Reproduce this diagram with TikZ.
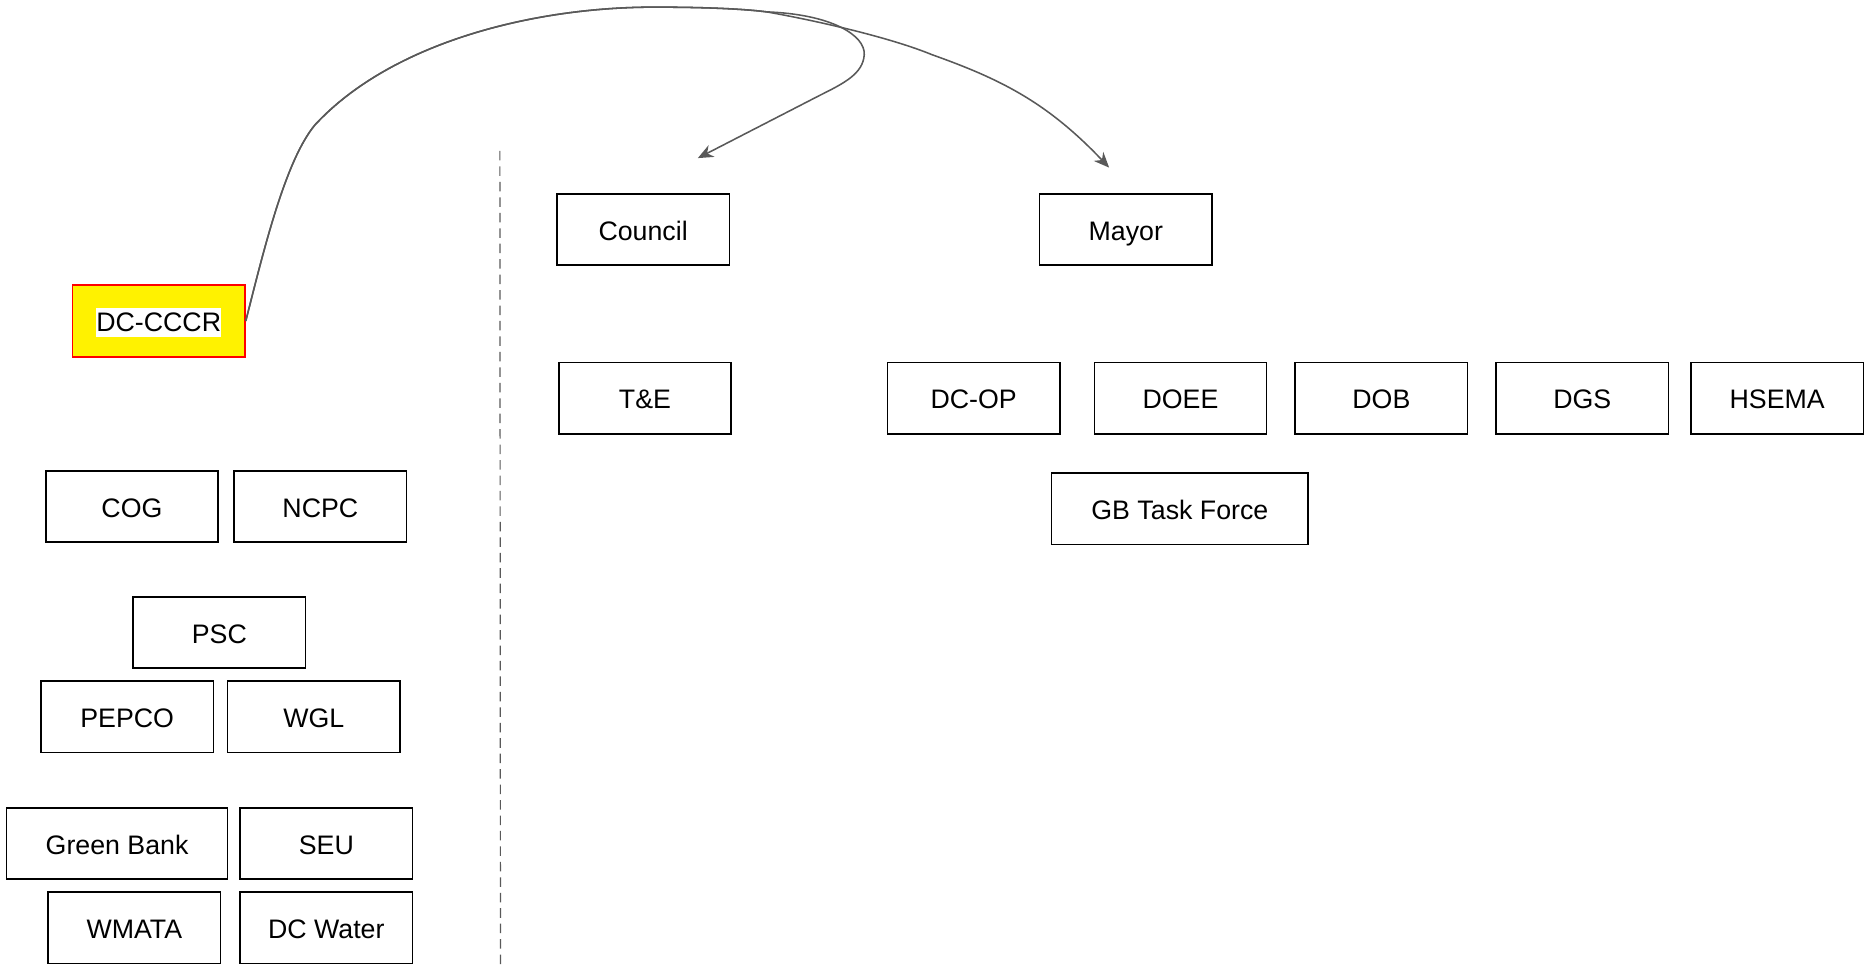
\documentclass[tikz,border=0pt]{standalone}
\usepackage{fontspec}
\setmainfont{Liberation Sans}
\usetikzlibrary{arrows.meta}
\definecolor{linkgray}{HTML}{595959}
\begin{document}
\begin{tikzpicture}[x=1pt,y=-1pt,
    org/.style={draw=black,line width=1.3pt,minimum width=145pt,minimum height=60pt,inner sep=0pt,
      text height=22pt,text depth=4pt,font=\fontsize{22.5}{26}\selectfont},
    link/.style={draw=linkgray,line width=1.3pt,-{Stealth[length=13pt,width=11pt]}}]
  \useasboundingbox (0,0) rectangle (1568,815);

  \node[org,draw=red,fill=yellow,line width=1.5pt] (cccr) at (133.5,270)
    {\setlength{\fboxsep}{0pt}\colorbox{white}{\rule[-0.21em]{0pt}{1.1em}DC-CCCR}};

  \node[org] (council) at (541,193) {Council};
  \node[org] (mayor) at (947,193) {Mayor};
  \node[org] (te) at (542.5,335) {T\&E};
  \node[org] (dcop) at (819,335) {DC-OP};
  \node[org] (doee) at (993,335) {DOEE};
  \node[org] (dob) at (1162,335) {DOB};
  \node[org] (dgs) at (1331,335) {DGS};
  \node[org] (hsema) at (1495,335) {HSEMA};
  \node[org,minimum width=216pt] (gbtf) at (992.5,428) {GB Task Force};

  \node[org] (cog) at (111,426) {COG};
  \node[org] (ncpc) at (269.5,426) {NCPC};
  \node[org] (psc) at (184.5,532) {PSC};
  \node[org] (pepco) at (107,603) {PEPCO};
  \node[org] (wgl) at (264,603) {WGL};
  \node[org,minimum width=186pt] (gbank) at (98.5,709.5) {Green Bank};
  \node[org] (seu) at (274.5,709.5) {SEU};
  \node[org] (wmata) at (113,780.5) {WMATA};
  \node[org] (dcwater) at (274.5,780.5) {DC Water};

  \coordinate (divtop) at (420.5,127);
  \coordinate (divbot) at (421,815);
  \draw[linkgray,line width=1pt,dash pattern=on 8pt off 5pt] (divtop) -- (divbot);

  \coordinate (counciltip) at (587,133);
  \coordinate (mayortip) at (933,141);
  \draw[link] (cccr.east) .. controls (222,210) and (240,135) .. (265,105)
    .. controls (330,35) and (450,6) .. (550,6)
    .. controls (600,6) and (630,8) .. (645,10)
    .. controls (700,12) and (728,30) .. (727,46)
    .. controls (726,62) and (710,70) .. (690,80) -- (counciltip);
  \draw[link] (cccr.east) .. controls (222,210) and (240,135) .. (265,105)
    .. controls (330,35) and (450,6) .. (550,6)
    .. controls (600,6) and (630,8) .. (645,10)
    .. controls (690,18) and (750,32) .. (784,46)
    .. controls (840,66) and (880,85) .. (mayortip);
\end{tikzpicture}
\end{document}
